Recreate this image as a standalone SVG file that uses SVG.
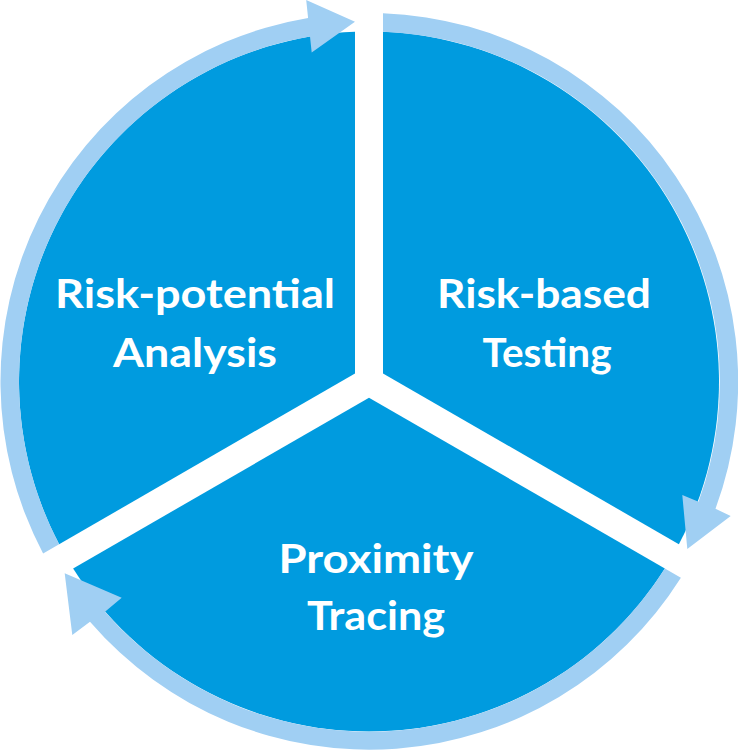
<svg xmlns="http://www.w3.org/2000/svg" width="738" height="750" viewBox="0 0 738 750">
  <style>
    .sector { fill: #009BDF; stroke: none; }
    .ring { fill: #A0CFF3; stroke: none; }
    .label { font-family: Lato, "Open Sans", "Liberation Sans", sans-serif; font-weight: bold; font-size: 41px; fill: #FFFFFF; text-anchor: middle; }
  </style>
  <rect width="738" height="750" fill="#FFFFFF"/>
  <g id="node-risk-potential-analysis">
    <path class="sector" d="M 355 373.42 L 59.14 544.24 A 350 350 0 0 1 355 31.78 Z"/>
    <text class="label" x="195" y="307.7" textLength="280" lengthAdjust="spacingAndGlyphs">Risk-potential</text>
    <text class="label" x="195" y="366.7" textLength="164" lengthAdjust="spacingAndGlyphs">Analysis</text>
  </g>
  <g id="node-risk-based-testing">
    <path class="sector" d="M 383 373.42 L 383 31.78 A 350 350 0 0 1 678.86 544.24 Z"/>
    <text class="label" x="544" y="308.3" textLength="214" lengthAdjust="spacingAndGlyphs">Risk-based</text>
    <text class="label" x="547" y="366.7" textLength="129" lengthAdjust="spacingAndGlyphs">Testing</text>
  </g>
  <g id="node-proximity-tracing">
    <path class="sector" d="M 369 397.67 L 664.86 568.48 A 350 350 0 0 1 73.14 568.48 Z"/>
    <text class="label" x="376" y="573.3" textLength="195" lengthAdjust="spacingAndGlyphs">Proximity</text>
    <text class="label" x="376" y="630" textLength="138" lengthAdjust="spacingAndGlyphs">Tracing</text>
  </g>
  <g id="connectors">
    <path class="ring" d="M 43.11 553.49 A 368.5 368.5 0 0 1 308.1 18.0 L 306.2 0 L 355 21.77 L 311.7 52.5 L 310.0 36.5 A 350 350 0 0 0 59.14 544.24 Z"/>
    <path class="ring" d="M 383 13.27 A 368.5 368.5 0 0 1 715.5 508.8 L 730.7 516 L 687.3 549.1 L 682.3 495 L 698.5 501.8 A 350 350 0 0 0 383 31.78 Z"/>
    <path class="ring" d="M 680.89 577.74 A 368.5 368.5 0 0 1 90 621.7 L 72.3 635 L 64.69 573.36 L 121.7 597.7 L 105 611.7 A 350 350 0 0 0 664.86 568.48 Z"/>
  </g>
</svg>
